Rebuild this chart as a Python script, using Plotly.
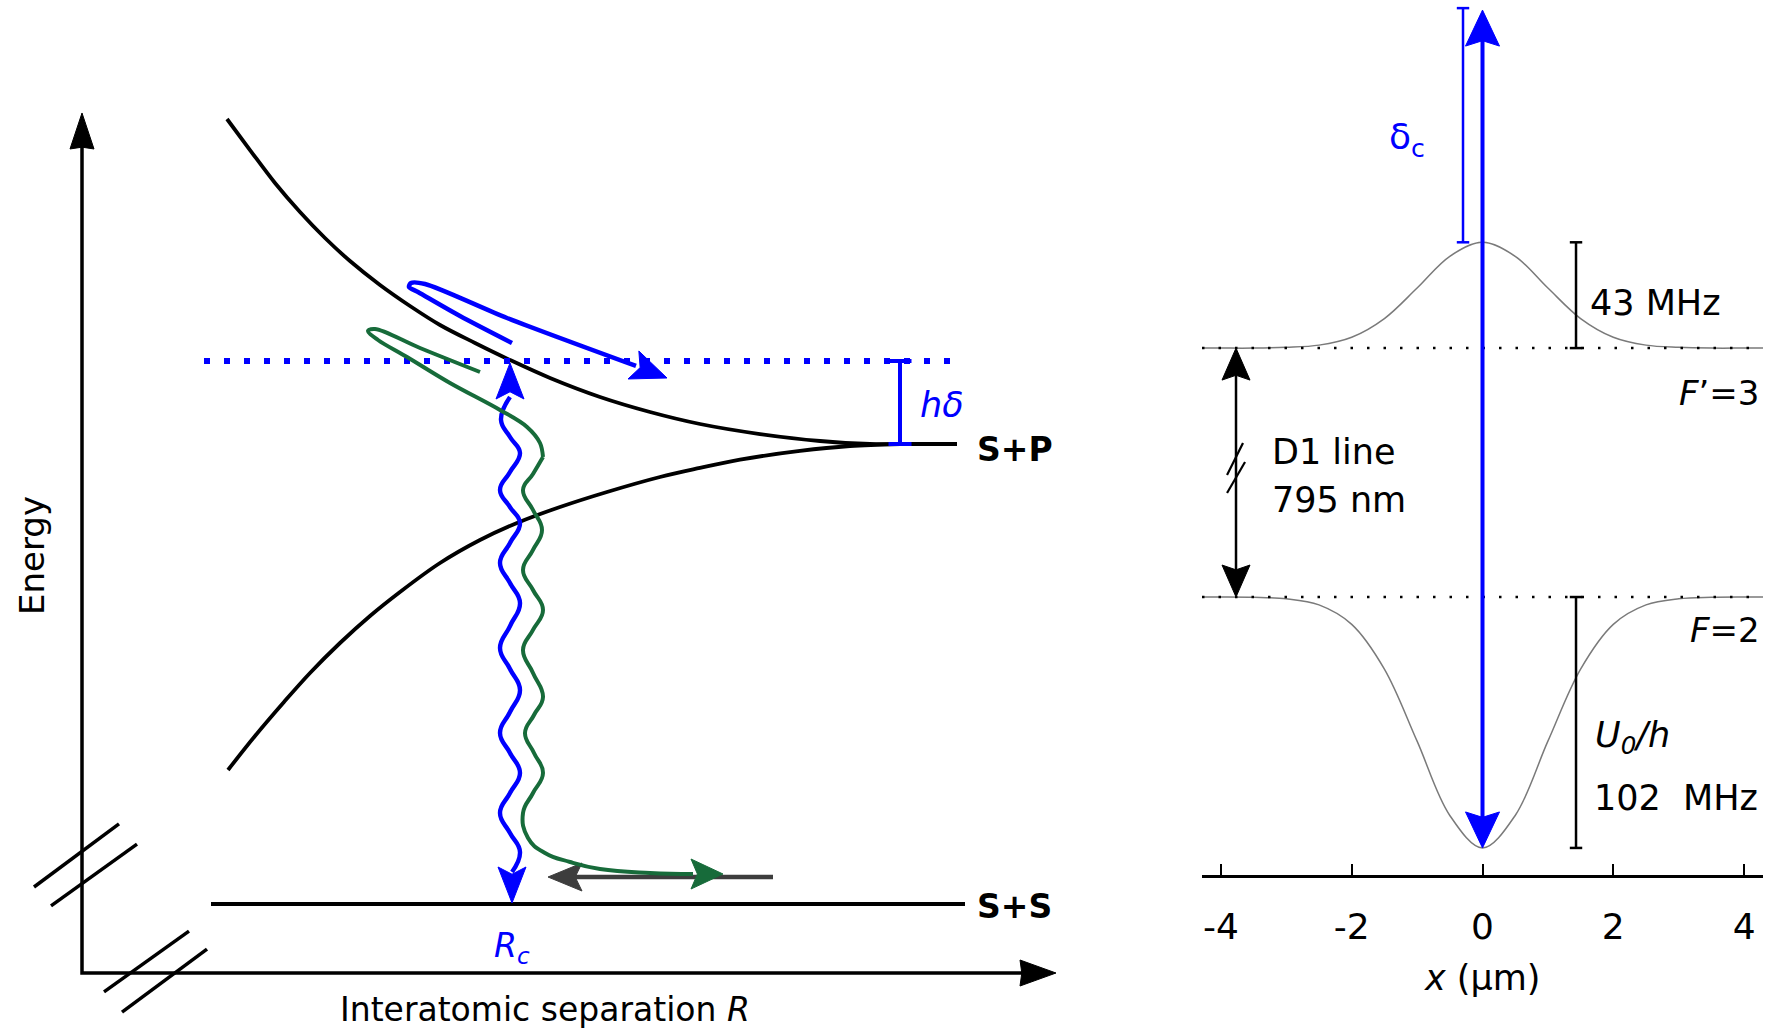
import plotly.graph_objects as go

W, H = 1780, 1034
FONT = "DejaVu Sans"
BLUE = "#0000FF"
GREEN = "#176b3a"
GREY_ARROW = "#3d3d3d"

# ---------------- Left panel: schematic potential curves ----------------
# R in arbitrary units (energy axis at R=0), E in units of the S+P asymptote (S+S = 0)
upper_R = [1.45, 1.68, 1.93, 2.18, 2.43, 2.68, 2.98, 3.28, 3.58, 3.93, 4.28, 4.68, 5.18,
           5.68, 6.18, 6.78, 7.38, 7.88, 8.18]
upper_E = [1.7065, 1.6391, 1.5674, 1.5043, 1.4478, 1.3978, 1.3457, 1.3000, 1.2587, 1.2196,
           1.1826, 1.1435, 1.1022, 1.0696, 1.0435, 1.0217, 1.0065, 1.0, 1.0]
lower_R = [1.46, 1.73, 2.02, 2.28, 2.58, 2.88, 3.18, 3.58, 3.98, 4.35, 4.78, 5.25, 5.78,
           6.18, 6.58, 7.18, 7.68, 8.18]
lower_E = [0.2913, 0.3652, 0.4391, 0.5022, 0.5674, 0.6261, 0.6783, 0.7413, 0.7913, 0.8283,
           0.8630, 0.8957, 0.9283, 0.9480, 0.9660, 0.9850, 0.9957, 1.0]
E_SP, E_SS, E_laser = 1.0, 0.0, 1.1804
R_SP_line = [8.18, 8.75]
R_SS_line = [1.29, 8.83]
R_laser_line = [1.22, 8.77]
R_hdelta = 8.18
axis_corner = (0.0, -0.15)
axis_E_tip = 1.7196
axis_R_tip = 9.74
break_marks = [  # (R0, E0, R1, E1)
    (-0.48, 0.037, 0.37, 0.174),
    (-0.31, -0.004, 0.55, 0.130),
    (0.22, -0.191, 1.07, -0.059),
    (0.40, -0.235, 1.25, -0.098),
]
# blue photon (wavy double arrow): extremes and centre crossings
photon_R = [4.28, 4.19, 4.28, 4.38, 4.28, 4.18, 4.28, 4.38, 4.28, 4.18, 4.28, 4.38, 4.28,
            4.18, 4.28, 4.38, 4.28, 4.18, 4.28, 4.38, 4.28, 4.18, 4.28, 4.38, 4.30]
photon_E = [1.1022, 1.0522, 1.0152, 0.9804, 0.9391, 0.9000, 0.8630, 0.8283, 0.7848, 0.7413,
            0.6978, 0.6543, 0.6043, 0.5565, 0.5109, 0.4652, 0.4174, 0.3717, 0.3283, 0.2848,
            0.2413, 0.1978, 0.1543, 0.1130, 0.0696]
photon_tip_top = (4.28, 1.1761)
photon_tip_bottom = (4.30, 0.0022)
# green trajectory: loop part, then wavy/decay part
green_loop_R = [3.98, 3.38, 2.93, 2.86, 2.96, 3.25, 3.68, 4.18, 4.45, 4.58, 4.61]
green_loop_E = [1.1565, 1.2087, 1.25, 1.2457, 1.2261, 1.1891, 1.1326, 1.0739, 1.0370, 1.0022,
                0.9717]
green_wave_R = [4.61, 4.51, 4.41, 4.51, 4.60, 4.51, 4.41, 4.51, 4.61, 4.51, 4.41, 4.51, 4.61,
                4.52, 4.43, 4.52, 4.61, 4.51, 4.41, 4.46, 4.63, 4.88, 5.18, 5.68, 6.11]
green_wave_E = [0.9717, 0.9348, 0.9000, 0.8565, 0.8130, 0.7696, 0.7261, 0.6826, 0.6391, 0.5957,
                0.5522, 0.5022, 0.4500, 0.4109, 0.3717, 0.3283, 0.2848, 0.2413, 0.1978, 0.1435,
                0.1109, 0.0913, 0.0761, 0.0674, 0.0652]
green_tip = (6.41, 0.0652)
# blue trajectory
blue_R = [4.30, 3.78, 3.36, 3.27, 3.29, 3.43, 4.25, 5.54]
blue_E = [1.2196, 1.2783, 1.3304, 1.3413, 1.35, 1.3478, 1.2739, 1.1696]
blue_tip = (5.85, 1.1435)
# grey arrow (incoming atoms)
grey_R = [6.91, 4.66]
grey_E = 0.0587

# ---------------- Right panel: light shifts in the trap ----------------
x_um = [-4.29, -4, -3.5, -3, -2.5, -2, -1.5, -1, -0.5, 0, 0.5, 1, 1.5, 2, 2.5, 3, 3.5, 4, 4.29]
excited_MHz = [101.2, 101.2, 101.2, 101.5, 102.4, 105.6, 113.2, 125.6, 138.5, 144.2,
               138.5, 125.6, 113.2, 105.6, 102.4, 101.5, 101.2, 101.2, 101.2]
ground_MHz = [0, 0, -0.1, -0.7, -3.2, -11.1, -29.3, -58.6, -88.8, -102.0,
              -88.8, -58.6, -29.3, -11.1, -3.2, -0.7, -0.1, 0, 0]
F3_level, F2_level = 101.2, 0.0
shift_excited, shift_ground = 43, 102
x_scalebar = 1.43
x_d1 = -3.769
x_deltac = -0.298
deltac_top = 239.4
laser_top = 238.6
tick_vals = [-4, -2, 0, 2, 4]
tick_text = ["-4", "-2", "0", "2", "4"]

# ---------------- axes geometry ----------------
XR1, YR1 = [-0.82, 10.18], [-0.2826, 1.9652]
XD1, YD1 = [0.0, 1100 / W], [0.0, 1.0]
XR2, YR2 = [-4.289, 4.289], [-113.0, 242.7]
XD2, YD2 = [1202 / W, 1763 / W], [(H - 875) / H, 1.0]


def scale(xr, yr, xd, yd):
    return ((xd[1] - xd[0]) * W / (xr[1] - xr[0]), (yd[1] - yd[0]) * H / (yr[1] - yr[0]))


S1 = scale(XR1, YR1, XD1, YD1)
S2 = scale(XR2, YR2, XD2, YD2)


def head(tip, frm, L, hw, sc, notch=0.2):
    sx, sy = sc
    tx, ty = tip[0] * sx, tip[1] * sy
    fx, fy = frm[0] * sx, frm[1] * sy
    dx, dy = tx - fx, ty - fy
    n = (dx * dx + dy * dy) ** 0.5
    ux, uy = dx / n, dy / n
    qx, qy = -uy, ux
    bx, by = tx - L * ux, ty - L * uy
    nx, ny = tx - (1 - notch) * L * ux, ty - (1 - notch) * L * uy
    pts = [(tx, ty), (bx + hw * qx, by + hw * qy), (nx, ny), (bx - hw * qx, by - hw * qy), (tx, ty)]
    base = ((tx - 0.75 * L * ux) / sx, (ty - 0.75 * L * uy) / sy)
    return [p[0] / sx for p in pts], [p[1] / sy for p in pts], base


fig = go.Figure()


def line(x, y, color, width, ax="", dash=None, shape="linear", smoothing=1.0):
    fig.add_trace(go.Scatter(x=x, y=y, mode="lines", xaxis="x" + ax, yaxis="y" + ax,
                             line=dict(color=color, width=width, dash=dash, shape=shape,
                                       smoothing=smoothing),
                             hoverinfo="skip", showlegend=False))


def poly(x, y, color, ax=""):
    fig.add_trace(go.Scatter(x=x, y=y, mode="lines", fill="toself", fillcolor=color,
                             xaxis="x" + ax, yaxis="y" + ax, line=dict(color=color, width=1),
                             hoverinfo="skip", showlegend=False))


# ----- left panel drawing -----
hx, hy, bE = head((axis_corner[0], axis_E_tip), axis_corner, 36, 12, S1, notch=0.05)
hx2, hy2, bR = head((axis_R_tip, axis_corner[1]), axis_corner, 36, 13, S1, notch=0.05)
line([bE[0], axis_corner[0], bR[0]], [bE[1], axis_corner[1], bR[1]], "black", 3.5)
poly(hx, hy, "black")
poly(hx2, hy2, "black")
for (r0, e0, r1, e1) in break_marks:
    line([r0, r1], [e0, e1], "black", 3.5)

line(upper_R, upper_E, "black", 3.8, shape="spline")
line(lower_R, lower_E, "black", 3.8, shape="spline")
line(R_SP_line, [E_SP, E_SP], "black", 3.8)
line(R_SS_line, [E_SS, E_SS], "black", 3.8)
line(R_laser_line, [E_laser, E_laser], BLUE, 6, dash="6px,14px")
cap = 0.115
line([R_hdelta, R_hdelta, None, R_hdelta - cap, R_hdelta + cap, None, R_hdelta - cap, R_hdelta + cap],
     [E_SP, E_laser, None, E_SP, E_SP, None, E_laser, E_laser], BLUE, 4)

# blue photon
line(photon_R, photon_E, BLUE, 4.4, shape="spline", smoothing=1.3)
px_, py_, _ = head(photon_tip_top, (photon_R[0], photon_E[0]), 36, 14, S1)
poly(px_, py_, BLUE)
px_, py_, _ = head(photon_tip_bottom, (photon_R[-1], photon_E[-1]), 36, 14, S1)
poly(px_, py_, BLUE)

# grey arrow
gx, gy, gb = head((grey_R[1], grey_E), (grey_R[0], grey_E), 34, 14, S1)
line([grey_R[0], gb[0]], [grey_E, gb[1]], GREY_ARROW, 4.5)
poly(gx, gy, GREY_ARROW)

# green trajectory
line(green_loop_R, green_loop_E, GREEN, 4, shape="spline", smoothing=1.0)
line(green_wave_R, green_wave_E, GREEN, 4, shape="spline", smoothing=1.3)
ax_, ay_, _ = head(green_tip, (green_wave_R[-1], green_wave_E[-1]), 32, 15, S1)
poly(ax_, ay_, GREEN)

# blue trajectory
line(blue_R, blue_E, BLUE, 4.5, shape="spline", smoothing=0.8)
bx_, by_, _ = head(blue_tip, (blue_R[-1], blue_E[-1]), 36, 15, S1)
poly(bx_, by_, BLUE)

# ----- right panel drawing -----
line(x_um, excited_MHz, "#7a7a7a", 1.5, ax="2", shape="spline")
line(x_um, ground_MHz, "#7a7a7a", 1.5, ax="2", shape="spline")
line([XR2[0], XR2[1]], [F3_level, F3_level], "black", 2.5, ax="2", dash="2.5px,14px")
line([XR2[0], XR2[1]], [F2_level, F2_level], "black", 2.5, ax="2", dash="2.5px,14px")

c2 = 0.095
top_e = F3_level + shift_excited
bot_g = F2_level - shift_ground
line([x_scalebar, x_scalebar, None, x_scalebar - c2, x_scalebar + c2, None, x_scalebar - c2, x_scalebar + c2],
     [F3_level, top_e, None, F3_level, F3_level, None, top_e, top_e], "black", 2.5, ax="2")
line([x_scalebar, x_scalebar, None, x_scalebar - c2, x_scalebar + c2, None, x_scalebar - c2, x_scalebar + c2],
     [F2_level, bot_g, None, F2_level, F2_level, None, bot_g, bot_g], "black", 2.5, ax="2")
line([x_deltac, x_deltac, None, x_deltac - c2, x_deltac + c2, None, x_deltac - c2, x_deltac + c2],
     [top_e, deltac_top, None, top_e, top_e, None, deltac_top, deltac_top], BLUE, 2.5, ax="2")

t1x, t1y, b1 = head((x_d1, F3_level), (x_d1, F2_level), 32, 14, S2, notch=0.15)
t2x, t2y, b2 = head((x_d1, F2_level), (x_d1, F3_level), 32, 14, S2, notch=0.15)
line([x_d1, x_d1], [b1[1], b2[1]], "black", 2.5, ax="2")
poly(t1x, t1y, "black", ax="2")
poly(t2x, t2y, "black", ax="2")
d1_breaks = [(-3.906, 49.6, -3.662, 62.6), (-3.906, 42.3, -3.631, 54.9)]
for (a0, m0, a1, m1) in d1_breaks:
    line([a0, a1], [m0, m1], "black", 2.2, ax="2")

u1x, u1y, ub = head((0, laser_top), (0, bot_g), 36, 17, S2, notch=0.15)
u2x, u2y, db = head((0, bot_g), (0, laser_top), 36, 17, S2, notch=0.15)
line([0, 0], [db[1], ub[1]], BLUE, 4, ax="2")
poly(u1x, u1y, BLUE, ax="2")
poly(u2x, u2y, BLUE, ax="2")

# ---------------- text ----------------
ann = []


def text(s, x, y, size, ax="", color="black", xanchor="center", yanchor="middle", angle=0, yref=None):
    ann.append(dict(text=s, x=x, y=y, xref="x" + ax, yref=yref or ("y" + ax), showarrow=False,
                    xanchor=xanchor, yanchor=yanchor, textangle=angle,
                    font=dict(family=FONT, size=size, color=color)))


text("<b>S+P</b>", 8.93, 0.987, 33, xanchor="left")
text("<b>S+S</b>", 8.93, -0.005, 33, xanchor="left")
text("<i>hδ</i>", 8.60, 1.0848, 35, color=BLUE)
text("<i>R<sub>c</sub></i>", 4.30, -0.0935, 33, color=BLUE)
text("Energy", -0.50, 0.7565, 34, angle=-90)
text("Interatomic separation <i>R</i>", 4.63, -0.2304, 33)

text("43 MHz", 1.613, 119.5, 35, ax="2", xanchor="left")
text("<i>F</i>’=3", 4.28, 82.9, 34, ax="2", xanchor="right")
text("<i>F</i>=2", 4.28, -13.4, 34, ax="2", xanchor="right")
text("<i>U<sub>0</sub>/h</i>", 1.69, -56.9, 35, ax="2", xanchor="left")
text("102\u00a0\u00a0MHz", 1.674, -81.7, 35, ax="2", xanchor="left")
text("D1 line", -3.249, 58.9, 35, ax="2", xanchor="left")
text("795 nm", -3.249, 39.4, 35, ax="2", xanchor="left")
text("δ<sub>c</sub>", -1.154, 185.8, 36, ax="2", color=BLUE)
text("<i>x</i> (μm)", 0, (H - 978) / H, 35, ax="2", yref="paper")

noax = dict(visible=False, showgrid=False, zeroline=False, fixedrange=True)
fig.update_layout(
    width=W, height=H, margin=dict(l=0, r=0, t=0, b=0),
    paper_bgcolor="white", plot_bgcolor="white", showlegend=False,
    xaxis=dict(domain=XD1, range=XR1, anchor="y", **noax),
    yaxis=dict(domain=YD1, range=YR1, anchor="x", **noax),
    xaxis2=dict(domain=XD2, range=XR2, anchor="y2", showgrid=False, zeroline=False,
                showline=True, linecolor="black", linewidth=3, ticks="inside", ticklen=11,
                tickwidth=1.5, tickcolor="black", tickvals=tick_vals, ticktext=tick_text,
                tickfont=dict(family=FONT, size=36, color="black"), ticklabelstandoff=18),
    yaxis2=dict(domain=YD2, range=YR2, anchor="x2", **noax),
    annotations=ann,
)
fig.write_html("out.html")
